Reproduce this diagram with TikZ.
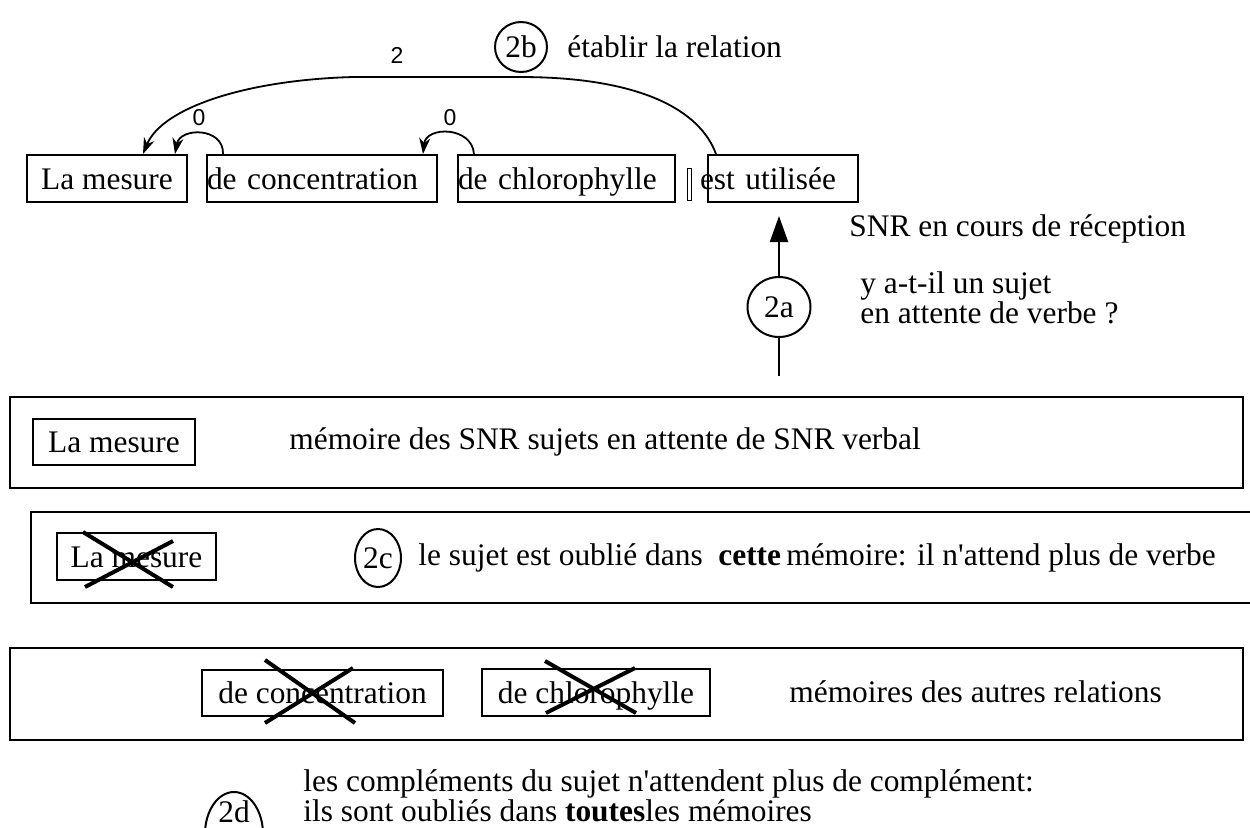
\documentclass[tikz,border=0pt]{standalone}
\usepackage{fontspec}
\setmainfont{Liberation Serif}
\newfontfamily\numsans{Liberation Sans}
\usetikzlibrary{arrows.meta}
\usetikzlibrary{shapes.geometric}

\newcommand{\wordfont}{\fontsize{15.7}{17}\selectfont}

\begin{document}
\begin{tikzpicture}[x=0.5pt, y=-0.5pt,
  wordbox/.style={draw, line width=1pt, minimum height=23.5pt, inner sep=0pt,
    text height=12pt, text depth=1.5pt, font=\wordfont},
  membox/.style={draw, line width=1.2pt},
  stepmark/.style={draw, ellipse, line width=1pt, inner sep=0pt, font=\wordfont},
  textline/.style={inner sep=0pt, anchor=west, font=\wordfont},
  depnum/.style={inner sep=0pt, font=\numsans\fontsize{11.5}{13}\selectfont},
  link/.style={-{Stealth[length=8pt, width=5.5pt, inset=2.5pt]}, line width=0.9pt},
  cross/.style={line width=2pt}]
  \useasboundingbox (0,0) rectangle (1250,827);

  % ---------- phrase en cours ----------
  \node[wordbox, minimum width=80pt] (mesure) at (107,178.5) {La mesure};
  \node[wordbox, text width=115pt, align=left] (concentration) at (322,178.5) {de concentration};
  \node[wordbox, text width=108.5pt, align=left] (chlorophylle) at (566.5,178.5) {de chlorophylle};
  \node[wordbox, text width=75pt, align=left] (utilisee) at (783,178.5) {\hspace*{-4pt}est utilisée};
  \node[draw, line width=0.4pt, minimum width=2pt, minimum height=16pt, inner sep=0pt] (cursor) at (689,184) {};

  % relations
  \draw[link] ([xshift=8.5pt]concentration.north west)
    .. controls (224,127) and (180,127) .. ([xshift=34pt]mesure.north);
  \draw[link] ([xshift=8.5pt]chlorophylle.north west)
    .. controls (472,126) and (426,126) .. ([xshift=-7.5pt]concentration.north east);
  \draw[link] ([xshift=4.5pt]utilisee.north west)
    .. controls (700,110) and (640,77) .. (520,77) -- (353,77)
    .. controls (245,80) and (162,108) .. ([xshift=18pt]mesure.north);
  \node[depnum] (poids2) at (397,55) {2};
  \node[depnum] (poids0a) at (199,118) {0};
  \node[depnum] (poids0b) at (450,118) {0};

  \node[stepmark, minimum width=26pt, minimum height=25pt] (stepB) at (521,47) {2b};
  \node[textline] (stepBlbl) at (567,47) {établir la relation};

  % ---------- reception ----------
  \coordinate (feed) at (779,376);
  \coordinate (tip) at (779,216);
  \node[stepmark, minimum width=31.5pt, minimum height=30pt] (stepA) at (779,307) {2a};
  \draw[line width=1pt] (feed) -- (stepA);
  \draw[-{Triangle[length=13pt, width=9pt]}, line width=1pt] (stepA) -- (tip);
  \node[textline] (recep) at (849,229) {SNR en cours de réception};
  \node[textline, align=left, font=\fontsize{15.7}{13.5}\selectfont] (question) at (860,298)
    {y a-t-il un sujet\\en attente de verbe ?};

  % ---------- memoire des sujets ----------
  \node[membox, minimum width=616.5pt, minimum height=45.5pt] (memsujet) at (626.5,442.5) {};
  \node[wordbox, minimum width=81pt, minimum height=23pt] (mesureB) at (114,442) {La mesure};
  \node[textline] (memsujetlbl) at (289,442) {mémoire des SNR sujets en attente de SNR verbal};

  % ---------- oubli du sujet ----------
  \node[membox, minimum width=614.5pt, minimum height=45.5pt] (memoubli) at (645.5,557.5) {};
  \node[wordbox, minimum width=79.5pt] (mesureC) at (136.5,556.5) {La mesure};
  \draw[cross] (83,532) -- (173,587);
  \draw[cross] (85,587) -- (173,541);
  \node[stepmark, minimum width=23pt, minimum height=29pt] (stepC) at (378,558) {2c};
  \node[textline] (oublilbl) at (418,558)
    {le sujet est oublié dans\ \ \textbf{cette}\,mémoire: il n\textquotesingle attend plus de verbe};

  % ---------- autres relations ----------
  \node[membox, minimum width=616.5pt, minimum height=46pt] (memautres) at (626.5,694) {};
  \node[wordbox, minimum width=120.5pt, minimum height=23pt] (concB) at (322.5,693) {de concentration};
  \node[wordbox, minimum width=114pt, minimum height=23.5pt] (chloroB) at (596,692.5) {de chlorophylle};
  \draw[cross] (265,660) -- (355,723);
  \draw[cross] (265,723) -- (353,668);
  \draw[cross] (545,661) -- (636,713);
  \draw[cross] (546,713) -- (635,668);
  \node[textline] (autreslbl) at (789,692) {mémoires des autres relations};

  \node[stepmark, minimum width=29pt, minimum height=42pt] (stepD) at (234,834) {};
  \node[inner sep=0pt, font=\wordfont] (stepDlbl) at (234,812) {2d};
  \node[textline, align=left, font=\fontsize{15.7}{11.5}\selectfont] (complbl) at (303,796)
    {les compléments du sujet n\textquotesingle attendent plus de complément:\\ils sont oubliés dans \textbf{toutes}les mémoires};
\end{tikzpicture}
\end{document}
